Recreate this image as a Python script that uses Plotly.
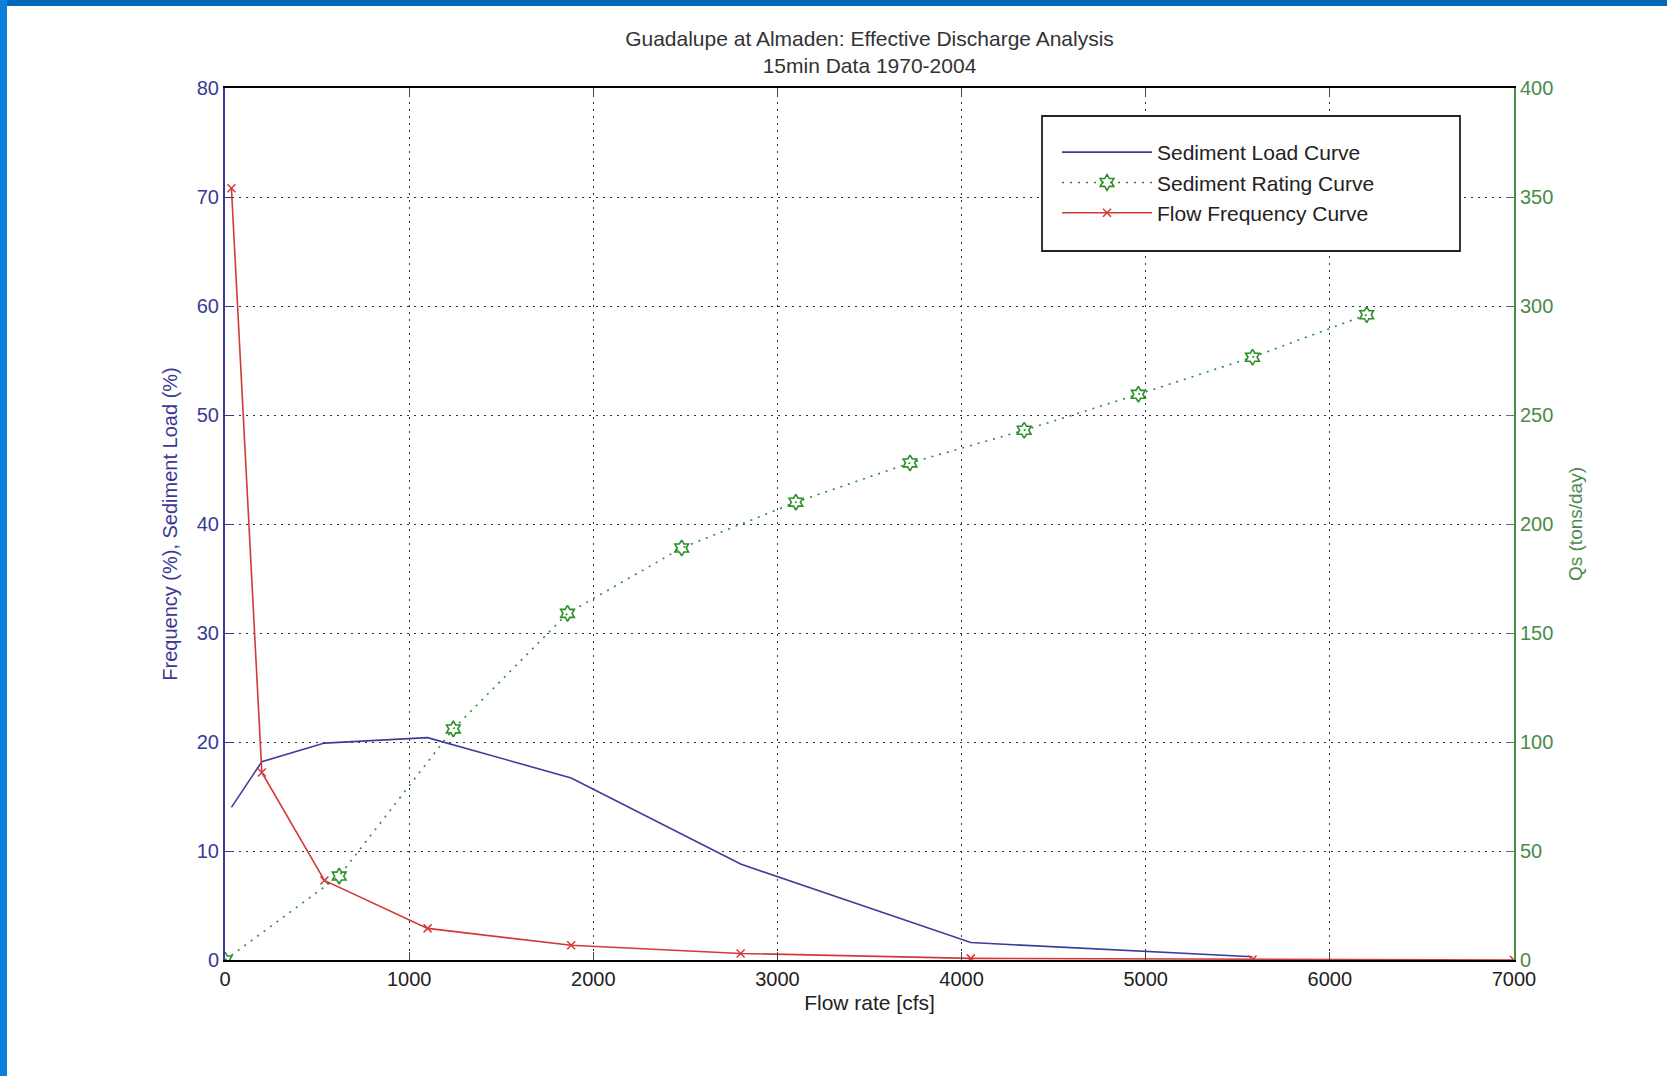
import plotly.graph_objects as go

# ---- data ----
flow_x = [35, 200, 540, 1100, 1880, 2800, 4050, 5580, 7000]
flow_freq = [70.8, 17.2, 7.3, 2.9, 1.35, 0.6, 0.15, 0.05, 0.0]

load_x = [35, 200, 540, 1100, 1880, 2800, 4050, 5580]
load_pct = [14.0, 18.2, 19.9, 20.4, 16.7, 8.8, 1.6, 0.3]

rating_x = [0, 620, 1240, 1860, 2480, 3100, 3720, 4340, 4960, 5580, 6200]
rating_qs = [0, 38.5, 106, 159, 189, 210, 228, 243, 259.5, 276.5, 296]

x_ticks = [0, 1000, 2000, 3000, 4000, 5000, 6000, 7000]
y1_ticks = [0, 10, 20, 30, 40, 50, 60, 70, 80]
y2_ticks = [0, 50, 100, 150, 200, 250, 300, 350, 400]

W, H = 1667, 1076
L, R, T, B = 225, 153, 88, 116
PW, PH = W - L - R, H - T - B

FONT = "Liberation Sans, Arial, sans-serif"
BLUE = "#3c3c9c"
RED = "#d23a3a"
GREEN = "#2a8f2a"
AX_BLUE = "#3a3a96"
AX_GREEN = "#4a8a4a"
GRID = "#333333"
GRID_DASH = "2px,5px"

fig = go.Figure()
fig.add_trace(go.Scatter(
    x=load_x, y=load_pct, name="Sediment Load Curve", mode="lines",
    line=dict(color=BLUE, width=1.6), yaxis="y"))
fig.add_trace(go.Scatter(
    x=rating_x, y=rating_qs, name="Sediment Rating Curve", mode="lines+markers",
    line=dict(color=GREEN, width=1.6, dash="2px,6px"),
    marker=dict(symbol="hexagram-open", size=12, color=GREEN, line=dict(width=1.6, color=GREEN)),
    yaxis="y2"))
fig.add_trace(go.Scatter(
    x=flow_x, y=flow_freq, name="Flow Frequency Curve", mode="lines+markers",
    line=dict(color=RED, width=1.6),
    marker=dict(symbol="x-thin", size=8, color=RED, line=dict(width=1.5, color=RED)),
    yaxis="y"))

def px2paper_x(px):
    return (px - L) / PW

def px2paper_y(py):
    return (H - B - py) / PH

shapes = [
    # blue frame of the screenshot
    dict(type="rect", xref="paper", yref="paper",
         x0=px2paper_x(0), x1=px2paper_x(W), y0=px2paper_y(6), y1=px2paper_y(0),
         fillcolor="#0068b4", line=dict(width=0), layer="above"),
    dict(type="rect", xref="paper", yref="paper",
         x0=px2paper_x(0), x1=px2paper_x(7), y0=px2paper_y(H), y1=px2paper_y(0),
         fillcolor="#0a7fdc", line=dict(width=0), layer="above"),
    # legend box
    dict(type="rect", xref="paper", yref="paper",
         x0=px2paper_x(1042), x1=px2paper_x(1460), y0=px2paper_y(251), y1=px2paper_y(116),
         fillcolor="white", line=dict(width=1.8, color="#222"), layer="above"),
]

fig.update_layout(
    width=W, height=H,
    margin=dict(l=L, r=R, t=T, b=B, autoexpand=False),
    paper_bgcolor="white", plot_bgcolor="white",
    font=dict(family=FONT, size=20, color="#222"),
    title=dict(text="Guadalupe at Almaden: Effective Discharge Analysis<br>15min Data 1970-2004",
               x=0.5, xref="paper", xanchor="center",
               y=1 - 46 / H, yref="container", yanchor="middle",
               font=dict(family=FONT, size=21, color="#333")),
    xaxis=dict(range=[0, 7000], tickvals=x_ticks, ticks="inside", ticklen=8,
               showline=True, linecolor="black", linewidth=2, mirror="ticks",
               showgrid=True, gridcolor=GRID, griddash=GRID_DASH, gridwidth=1.2,
               zeroline=False, tickfont=dict(size=20, color="#222"),
               title=dict(text="Flow rate [cfs]", font=dict(size=21, color="#222"), standoff=6)),
    yaxis=dict(range=[0, 80], tickvals=y1_ticks, ticks="inside", ticklen=8,
               tickcolor=AX_BLUE,
               showline=True, linecolor=AX_BLUE, linewidth=2,
               showgrid=True, gridcolor=GRID, griddash=GRID_DASH, gridwidth=1.2,
               zeroline=False, tickfont=dict(size=20, color=AX_BLUE),
               title=dict(text="Frequency (%), Sediment Load (%)", font=dict(size=20, color=AX_BLUE), standoff=14)),
    yaxis2=dict(range=[0, 400], tickvals=y2_ticks, ticks="inside", ticklen=8,
                tickcolor=AX_GREEN,
                overlaying="y", side="right",
                showline=True, linecolor=AX_GREEN, linewidth=2,
                showgrid=False, zeroline=False, tickfont=dict(size=20, color=AX_GREEN),
                title=dict(text="Qs (tons/day)", font=dict(size=19, color=AX_GREEN), standoff=16)),
    legend=dict(x=px2paper_x(1057), y=px2paper_y(132), xanchor="left", yanchor="top",
                bgcolor="rgba(0,0,0,0)", borderwidth=0,
                font=dict(size=21, color="#222"), tracegroupgap=0, itemwidth=90),
    shapes=shapes,
    showlegend=True,
)

fig.write_html("out.html", config={"displayModeBar": False},
               post_script="document.body.style.margin='0';document.body.style.overflow='hidden';")
